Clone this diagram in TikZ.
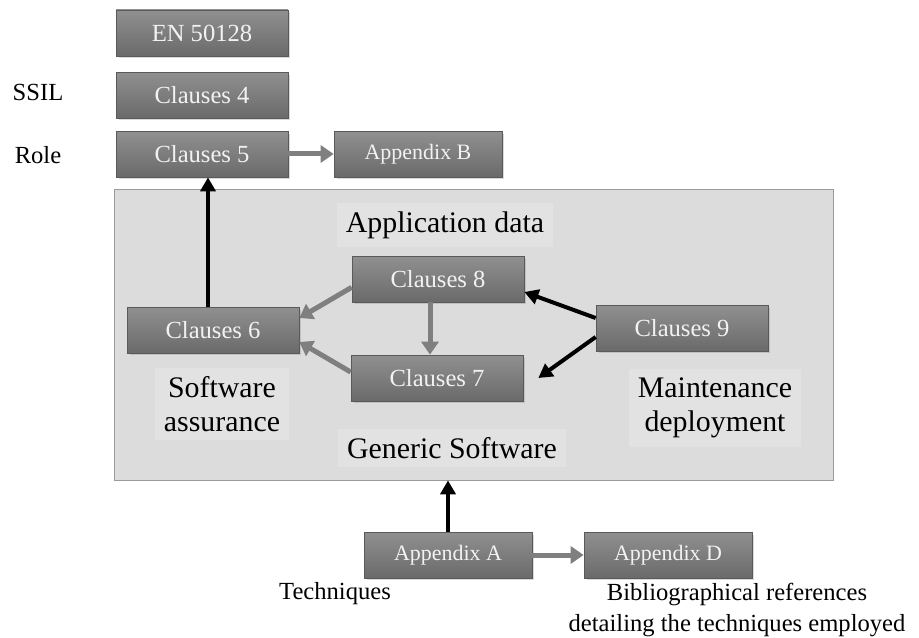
\documentclass[tikz,border=0pt]{standalone}
\usepackage{fontspec}
\setmainfont{Liberation Serif}
\usetikzlibrary{arrows.meta,shadows}
\definecolor{boxtop}{HTML}{909090}
\definecolor{boxbot}{HTML}{6A6A6A}
\definecolor{boxtxt}{HTML}{F2F2F2}
\definecolor{panelbg}{HTML}{DCDCDC}
\definecolor{panelhi}{HTML}{E2E2E2}
\definecolor{panelrim}{HTML}{9A9A9A}
\definecolor{linkgray}{HTML}{7F7F7F}
\tikzset{
  clause/.style={draw=boxbot!85!black,top color=boxtop,bottom color=boxbot,text=boxtxt,
    minimum width=3.44cm,minimum height=0.92cm,inner sep=0pt,font=\fontsize{14}{16}\selectfont,
    drop shadow={opacity=0.3,shadow xshift=0.05cm,shadow yshift=-0.05cm}},
  annex/.style={clause,minimum width=3.36cm,font=\fontsize{12.5}{14}\selectfont},
  lbl/.style={font=\fontsize{14}{17.5}\selectfont,align=center,inner sep=1pt},
  biglbl/.style={font=\fontsize{17}{19}\selectfont,align=center,inner sep=5pt,fill=panelhi},
  grar/.style={-{Triangle[length=2.6mm,width=3.4mm]},line width=1mm,linkgray},
  bkar/.style={-{Triangle[length=2.8mm,width=3mm]},line width=0.8mm,black}
}
\begin{document}
\begin{tikzpicture}[x=0.02cm,y=-0.02cm]
\useasboundingbox (0,0) rectangle (919,638);
% panel
\node[draw=panelrim,fill=panelbg,minimum width=14.38cm,minimum height=5.82cm,inner sep=0pt] (panel) at (473.5,334.5) {};
\node[biglbl] (appdata) at (445,225) {Application data};
\node[biglbl] (swassur) at (222,404) {Software\\assurance};
\node[biglbl] (maintdep) at (715,408) {Maintenance\\deployment};
\node[biglbl] (generic) at (452,448) {Generic Software};
% top column
\node[clause] (en) at (202,33) {EN 50128};
\node[clause] (cl4) at (202,95) {Clauses 4};
\node[clause] (cl5) at (202,154) {Clauses 5};
\node[annex] (appB) at (418,154) {Appendix B};
\node[lbl] (ssil) at (38,92) {SSIL};
\node[lbl] (role) at (38,155) {Role};
% inside
\node[clause] (cl8) at (438,279) {Clauses 8};
\node[clause] (cl6) at (213,330) {Clauses 6};
\node[clause] (cl9) at (682,328) {Clauses 9};
\node[clause] (cl7) at (437,378) {Clauses 7};
% bottom
\node[annex] (appA) at (448,555) {Appendix A};
\node[annex] (appD) at (668,555) {Appendix D};
\node[lbl] (tech) at (335,594) {Techniques};
\node[lbl] (biblio) at (737,610) {Bibliographical references\\detailing the techniques employed};
% links
\draw[grar] (cl5) -- (appB);
\draw[bkar] ([xshift=-0.1cm]cl6.north) -- ([xshift=-0.1cm]cl6.north |- cl5.south);
\draw[grar] ([yshift=0.3cm]cl8.south west) -- ([yshift=0.24cm]cl6.east);
\draw[grar] ([yshift=0.12cm]cl7.west) -- ([yshift=-0.24cm]cl6.east);
\draw[grar] ([xshift=-0.16cm]cl8.south) -- ([xshift=-0.16cm]cl8.south |- cl7.north);
\draw[bkar] ([yshift=0.2cm]cl9.west) -- ([yshift=-0.26cm]cl8.east);
\draw[bkar] ([yshift=-0.18cm]cl9.west) -- ([xshift=0.3cm]cl7.east);
\draw[bkar] (appA) -- (appA |- panel.south);
\draw[grar] (appA) -- (appD);
\end{tikzpicture}
\end{document}
